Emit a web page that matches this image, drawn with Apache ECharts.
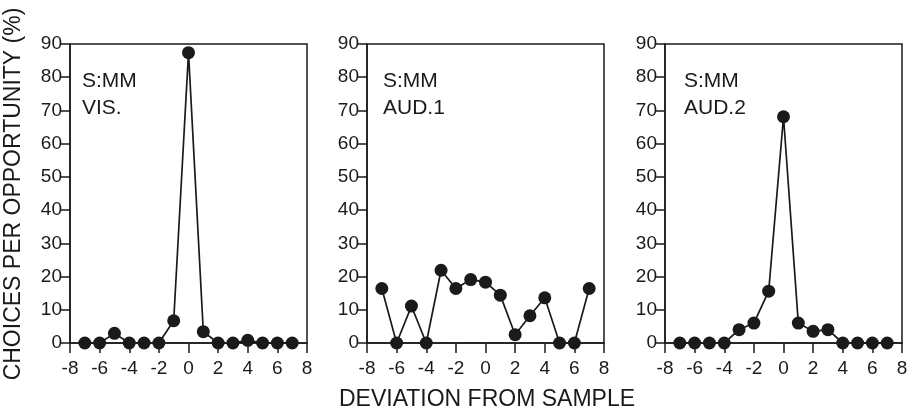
<!DOCTYPE html>
<html>
<head>
<meta charset="utf-8">
<script src="https://cdn.jsdelivr.net/npm/echarts@6/dist/echarts.min.js"></script>
<style>
html,body{margin:0;padding:0;background:#fff;}
#c{width:914px;height:413px;}
</style>
</head>
<body>
<div id="c"></div>
<script>
// Data
const deviations = [-7,-6,-5,-4,-3,-2,-1,0,1,2,3,4,5,6,7];
const visValues  = [0,0,2.9,0,0,0,6.7,87.4,3.4,0,0,0.8,0,0,0];
const aud1Values = [16.4,0,11.1,0,21.9,16.4,19.1,18.3,14.4,2.5,8.2,13.6,0,0,16.4];
const aud2Values = [0,0,0,0,4.0,6.0,15.6,68.1,6.0,3.5,4.0,0,0,0,0];
const panelLabels = [["S:MM","VIS."],["S:MM","AUD.1"],["S:MM","AUD.2"]];
const xTitle = "DEVIATION FROM SAMPLE";
const yTitle = "CHOICES PER OPPORTUNITY (%)";

const FONT = "'Liberation Sans', Arial, Helvetica, sans-serif";
const INK = "#1a1a1a";
const panels = [visValues, aud1Values, aud2Values];
const gridLefts = [70, 367, 665];
const labelX = [82, 383, 684];

const chart = echarts.init(document.getElementById('c'), null, {renderer:'canvas'});

const grids = gridLefts.map(l => ({
  left: l, top: 44, width: 237, height: 299,
  show: true, borderColor: INK, borderWidth: 1.5, backgroundColor: 'transparent'
}));

const xAxes = panels.map((_, i) => ({
  type: 'value', gridIndex: i, min: -8, max: 8, interval: 2,
  axisLine: {show: true, onZero: false, lineStyle: {color: INK, width: 1.5}},
  axisTick: {show: true, length: 10, lineStyle: {color: INK, width: 1.5}},
  axisLabel: {color: INK, fontFamily: FONT, fontSize: 19, margin: 16, showMinLabel: true, showMaxLabel: true},
  splitLine: {show: false}
}));

const yAxes = panels.map((_, i) => ({
  type: 'value', gridIndex: i, min: 0, max: 90, interval: 10,
  axisLine: {show: true, onZero: false, lineStyle: {color: INK, width: 1.5}},
  axisTick: {show: true, length: 9, lineStyle: {color: INK, width: 1.5}},
  axisLabel: {color: INK, fontFamily: FONT, fontSize: 19, margin: 8, showMinLabel: true, showMaxLabel: true},
  splitLine: {show: false}
}));

const series = panels.map((vals, i) => ({
  type: 'line', xAxisIndex: i, yAxisIndex: i,
  data: deviations.map((d, k) => [d, vals[k]]),
  symbol: 'circle', symbolSize: 13,
  lineStyle: {color: INK, width: 1.7},
  itemStyle: {color: INK},
  animation: false
}));

const graphics = [];
panelLabels.forEach((lines, i) => {
  lines.forEach((t, j) => {
    graphics.push({
      type: 'text', left: labelX[i], top: 71 + j * 27,
      style: {text: t, fontFamily: FONT, fontSize: 21, fill: INK}
    });
  });
});
graphics.push({
  type: 'text', x: 487, y: 400,
  style: {text: xTitle, fontFamily: FONT, fontSize: 23, fill: INK, align: 'center', verticalAlign: 'middle'}
});
graphics.push({
  type: 'text', x: 14, y: 194, rotation: Math.PI / 2,
  style: {text: yTitle, fontFamily: FONT, fontSize: 23, fill: INK, align: 'center', verticalAlign: 'middle'}
});

chart.setOption({
  animation: false,
  backgroundColor: '#fff',
  grid: grids,
  xAxis: xAxes,
  yAxis: yAxes,
  series: series,
  graphic: graphics
});
</script>
</body>
</html>
